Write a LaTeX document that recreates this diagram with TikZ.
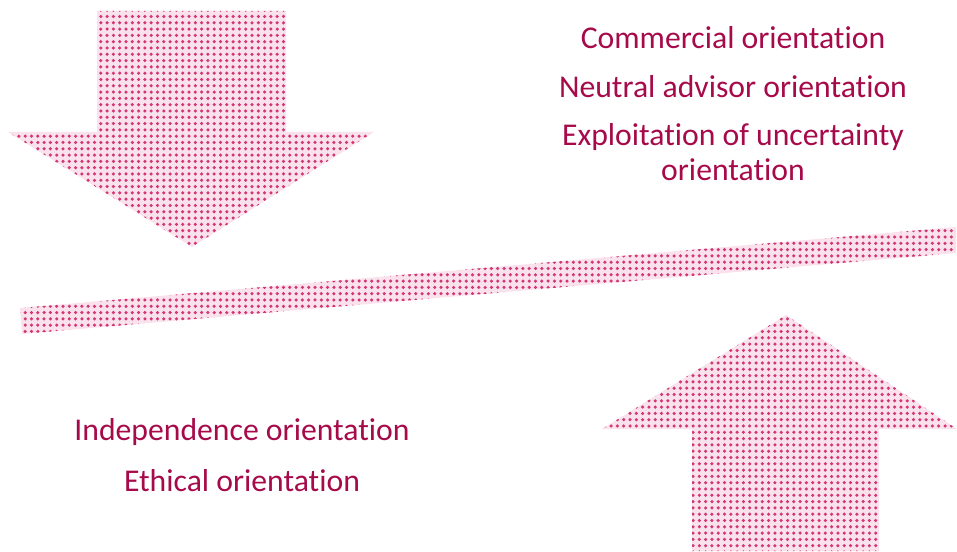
\documentclass[tikz,border=0pt]{standalone}
\usepackage{fontspec}
\setmainfont[Ligatures={NoCommon}]{Carlito}
\usetikzlibrary{patterns.meta}
\definecolor{txtc}{RGB}{166,10,74}
\definecolor{dotc}{RGB}{210,55,115}
\definecolor{bgpink}{RGB}{250,226,236}
\tikzset{
  dotted shape/.style={fill=bgpink, postaction={pattern={Dots[distance=6.3bp, radius=1.75bp]}, pattern color=dotc}},
  lbl/.style={text=txtc, font=\fontsize{31.7bp}{35bp}\selectfont, align=center, inner sep=0pt}
}
\begin{document}
\begin{tikzpicture}[x=1bp,y=-1bp]
\useasboundingbox (0,0) rectangle (957,552);
% down arrow
\path[dotted shape] (97,11) -- (286,11) -- (286,132) -- (374,132) -- (192,247) -- (8,132) -- (97,132) -- cycle;
% up arrow
\path[dotted shape] (786,315) -- (957,429) -- (879,429) -- (879,551) -- (692,551) -- (692,429) -- (602,429) -- cycle;
% tilted bar
\path[dotted shape] (20,308) -- (956,227) -- (956,253) -- (22,334) -- cycle;
% labels
\node[lbl] (comm) at (733,38) {Commercial orientation};
\node[lbl] (neut) at (733,87) {Neutral advisor orientation};
\node[lbl] (expl) at (733,152) {Exploitation of uncertainty\\orientation};
\node[lbl] (inde) at (242,432) {Independence orientation};
\node[lbl] (ethi) at (242,481) {Ethical orientation};
\end{tikzpicture}
\end{document}
